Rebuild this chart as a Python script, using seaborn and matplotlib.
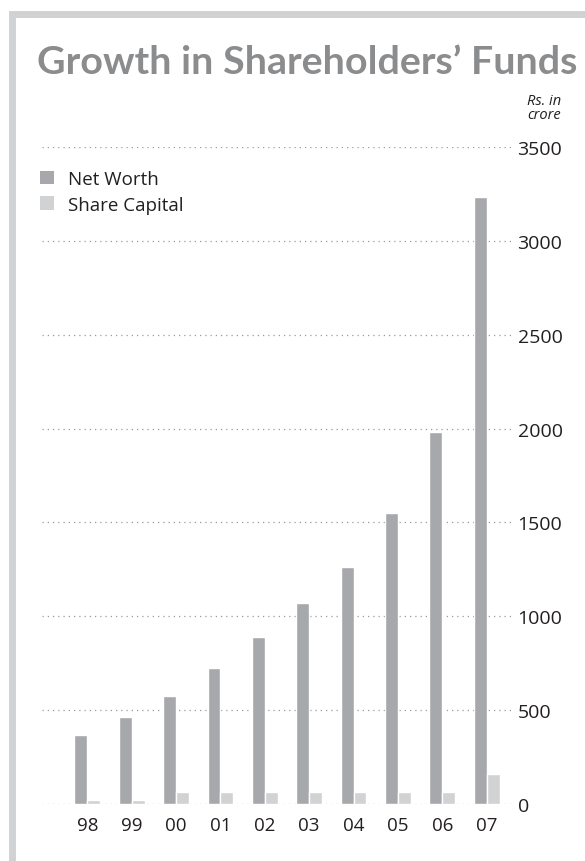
import matplotlib
matplotlib.use("Agg")
import matplotlib.pyplot as plt
from matplotlib.patches import Patch, Rectangle
import seaborn as sns
import pandas as pd

# values in Rs. crore
years = ["98", "99", "00", "01", "02", "03", "04", "05", "06", "07"]
net_worth = [368, 464, 576, 725, 891, 1072, 1264, 1552, 1984, 3232]
share_capital = [21, 21, 64, 64, 64, 64, 64, 64, 64, 160]
series_names = ["Net Worth", "Share Capital"]
y_ticks = [0, 500, 1000, 1500, 2000, 2500, 3000, 3500]

colors = {"Net Worth": "#a7a8ab", "Share Capital": "#d1d2d4"}

df = pd.DataFrame({
    "year": years * 2,
    "series": [series_names[0]] * len(years) + [series_names[1]] * len(years),
    "value": net_worth + share_capital,
})

sns.set_style("white")
plt.rcParams["font.family"] = ["Open Sans", "DejaVu Sans"]

W, H = 585, 862
fig = plt.figure(figsize=(W / 100, H / 100), dpi=100)
ax = fig.add_axes([42 / W, (H - 805) / H, 470 / W, 657 / H])

sns.barplot(data=df, x="year", y="value", hue="series", order=years,
            hue_order=series_names, palette=colors, width=0.58, gap=0,
            saturation=1, legend=False, ax=ax, zorder=3)

ax.set_xlim(-1.02, 9.57)
ax.set_ylim(0, 3500)
ax.set_yticks(y_ticks)
ax.yaxis.tick_right()
ax.grid(axis="y", color="#9a9a9a", linestyle=(0, (1, 3.2)), linewidth=0.9, zorder=0)
ax.grid(axis="x", visible=False)
for s in ax.spines.values():
    s.set_visible(False)
ax.tick_params(axis="y", length=0, pad=4, labelsize=14, labelcolor="#231f20")
ax.tick_params(axis="x", length=0, pad=9, labelsize=13.5, labelcolor="#231f20")
ax.set_xlabel("")
ax.set_ylabel("")

# legend
handles = [Patch(facecolor=colors[n], edgecolor="none") for n in series_names]
fig.legend(handles, series_names, loc="upper left",
           bbox_to_anchor=(40 / W, 1 - 171 / H), bbox_transform=fig.transFigure,
           frameon=False, fontsize=13.5, handlelength=0.75, handleheight=0.75,
           handletextpad=0.72, labelspacing=0.42, borderpad=0, borderaxespad=0,
           labelcolor="#231f20")

# title and unit note
fig.text(37 / W, 1 - 74 / H, "Growth in Shareholders\u2019 Funds",
         fontsize=28.4, fontweight="bold", color="#8b8c8e", family=["Lato", "DejaVu Sans"],
         ha="left", va="baseline")
fig.text(561 / W, 1 - 119 / H, "Rs. in\ncrore", fontsize=10.5, style="italic",
         color="#231f20", ha="right", va="baseline", linespacing=0.95)

# light frame round the panel
fig.patches.append(Rectangle((11.5 / W, -0.1), 1.5, 1.1 - 14.5 / H, fill=False,
                             linewidth=5.0, edgecolor="#d1d2d4",
                             transform=fig.transFigure, figure=fig))

fig.savefig("out.png", dpi=100)
